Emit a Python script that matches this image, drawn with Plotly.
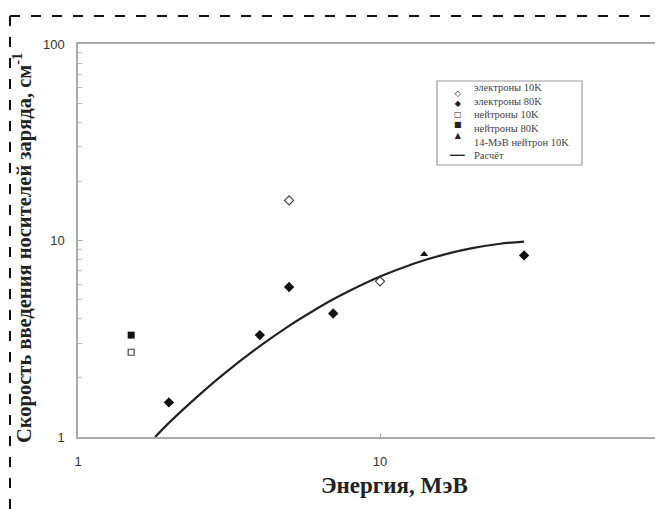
import plotly.graph_objects as go

# Data
e_el10 = [5, 10]
v_el10 = [16, 6.2]
e_el80 = [2, 4, 5, 7, 30]
v_el80 = [1.5, 3.3, 5.8, 4.25, 8.4]
e_n10 = [1.5]
v_n10 = [2.7]
e_n80 = [1.5]
v_n80 = [3.3]
e_n14 = [14]
v_n14 = [8.5]
e_calc = [1.8, 2, 2.5, 3, 4, 5, 6, 7, 8, 10, 12, 14, 17, 20, 25, 30]
v_calc = [1.0, 1.18, 1.62, 2.06, 2.90, 3.68, 4.38, 5.02, 5.58, 6.55, 7.31, 7.93, 8.62, 9.12, 9.63, 9.88]

names = ["электроны 10K", "электроны 80K", "нейтроны 10K", "нейтроны 80K",
         "14-МэВ нейтрон 10K", "Расчёт"]
legend_symbols = ["◇", "◆", "□", "■", "▲"]

x_ticks = [1, 10]
y_ticks = [1, 10, 100]
y_minor = [2, 3, 4, 5, 6, 7, 8, 9, 20, 30, 40, 50, 60, 70, 80, 90]

W, H = 655, 509
L, T, B = 78, 44, 72
pw, ph = W - L, H - B - T
fx = lambda px: (px - L) / pw
fy = lambda py: ((H - B) - py) / ph

fig = go.Figure()
fig.add_trace(go.Scatter(x=e_el10, y=v_el10, mode="markers", name=names[0],
                         marker=dict(symbol="diamond-open", size=7, color="#444",
                                     line=dict(width=1.2, color="#444"))))
fig.add_trace(go.Scatter(x=e_el80, y=v_el80, mode="markers", name=names[1],
                         marker=dict(symbol="diamond", size=8, color="#111")))
fig.add_trace(go.Scatter(x=e_n10, y=v_n10, mode="markers", name=names[2],
                         marker=dict(symbol="square-open", size=6, color="#444",
                                     line=dict(width=1.2, color="#444"))))
fig.add_trace(go.Scatter(x=e_n80, y=v_n80, mode="markers", name=names[3],
                         marker=dict(symbol="square", size=7, color="#111")))
fig.add_trace(go.Scatter(x=e_n14, y=v_n14, mode="markers", name=names[4],
                         marker=dict(symbol="triangle-up", size=7, color="#111")))
fig.add_trace(go.Scatter(x=e_calc, y=v_calc, mode="lines", name=names[5],
                         line=dict(color="#222", width=2.2, shape="spline", smoothing=0.8)))

xr = (W - L) / 302.0
fig.update_xaxes(type="log", range=[0, xr], showgrid=False, zeroline=False,
                 showline=True, linecolor="#aaa", linewidth=1.5, mirror=True,
                 tickmode="array", tickvals=x_ticks, ticktext=[str(v) for v in x_ticks],
                 ticks="inside", ticklen=4, tickcolor="#aaa", ticklabelstandoff=12,
                 tickfont=dict(family="Liberation Sans", size=13, color="#333"))
fig.update_yaxes(type="log", range=[0, 2], showgrid=False, zeroline=False,
                 showline=True, linecolor="#aaa", linewidth=1.5, mirror=False,
                 tickmode="array", tickvals=y_ticks, ticktext=[str(v) for v in y_ticks],
                 ticks="inside", ticklen=5, tickcolor="#aaa", ticklabelstandoff=9,
                 minor=dict(tickmode="array", tickvals=y_minor, ticks="inside",
                            ticklen=4, tickcolor="#bbb"),
                 tickfont=dict(family="Liberation Sans", size=13, color="#333"))

fig.add_annotation(text="<b>Энергия, МэВ</b>", xref="paper", yref="paper",
                   x=fx(394), y=fy(485), showarrow=False,
                   xanchor="center", yanchor="middle",
                   font=dict(family="Liberation Serif", size=23, color="#222"))
fig.add_annotation(text="<b>Скорость введения носителей заряда, см<sup>-1</sup></b>",
                   xref="paper", yref="paper", x=fx(22), y=fy(248),
                   showarrow=False, xanchor="center", yanchor="middle", textangle=-90,
                   font=dict(family="Liberation Serif", size=20.5, color="#222"))

# legend (drawn as text inside a box)
fig.add_shape(type="rect", xref="paper", yref="paper", x0=fx(437), y0=fy(81),
              x1=fx(582), y1=fy(165), line=dict(color="#999", width=1.2),
              fillcolor="white", layer="below")
fig.add_annotation(text="<br>".join(legend_symbols), xref="paper", yref="paper",
                   x=fx(458), y=fy(114), showarrow=False, xanchor="center",
                   yanchor="middle", align="center",
                   font=dict(family="DejaVu Sans", size=8, color="#222"))
fig.add_annotation(text="━━━", xref="paper", yref="paper",
                   x=fx(457), y=fy(155), showarrow=False, xanchor="center",
                   yanchor="middle", font=dict(family="DejaVu Sans", size=8, color="#222"))
fig.add_annotation(text="<br>".join(names), xref="paper", yref="paper",
                   x=fx(472), y=fy(121), showarrow=False, xanchor="left",
                   yanchor="middle", align="left",
                   font=dict(family="Liberation Serif", size=10.5, color="#444"))

# dashed page frame
fig.add_shape(type="line", xref="paper", yref="paper", x0=fx(10), y0=fy(16),
              x1=fx(W + 5), y1=fy(16), line=dict(color="#111", width=2, dash="10px,11px"))
fig.add_shape(type="line", xref="paper", yref="paper", x0=fx(10), y0=fy(16),
              x1=fx(10), y1=fy(H + 5), line=dict(color="#111", width=2, dash="10px,11px"))

fig.update_layout(width=W, height=H, margin=dict(l=L, r=0, t=T, b=B),
                  paper_bgcolor="white", plot_bgcolor="white", showlegend=False)

fig.write_html("out.html")
